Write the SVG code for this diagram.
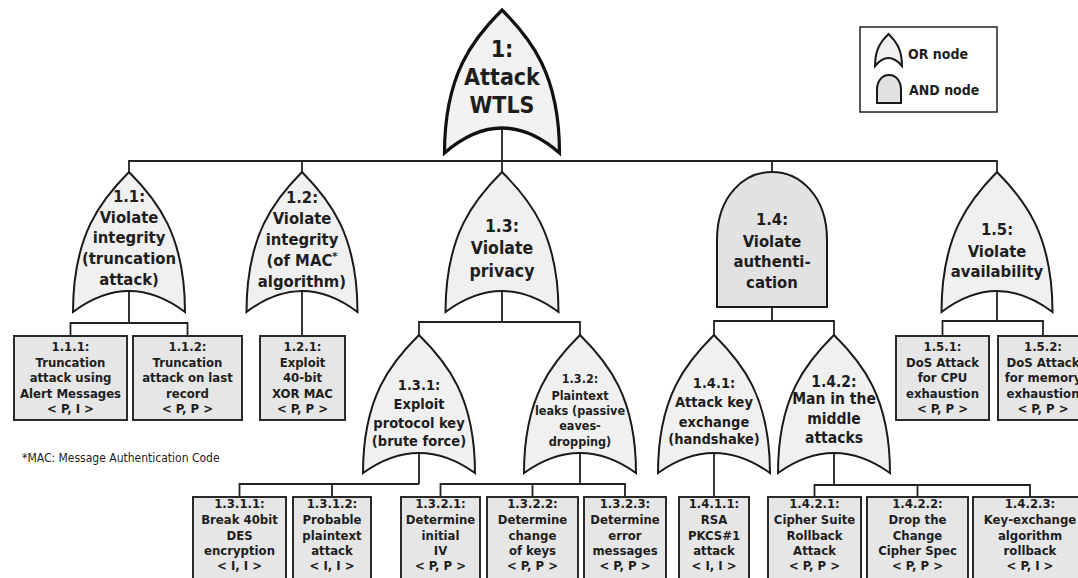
<svg xmlns="http://www.w3.org/2000/svg" width="1078" height="578" viewBox="0 0 1078 578">
  <style>
    text { font-family: "DejaVu Sans Condensed", "DejaVu Sans", sans-serif; font-stretch: condensed; font-weight: bold; fill: #1e1e1e; text-anchor: middle; }
    .or { fill: #f0f0f0; stroke: #1a1a1a; stroke-width: 2; stroke-linejoin: miter; }
    .root { fill: #f2f2f2; stroke: #111; stroke-width: 3.2; }
    .and { fill: #e2e2e2; stroke: #1a1a1a; stroke-width: 2; }
    .leaf { fill: #e6e6e6; stroke: #2a2a2a; stroke-width: 2; }
    .wire { fill: none; stroke: #222; stroke-width: 1.8; }
    .t1 { font-size: 16.5px; }
    .t13 { font-size: 17.5px; }
    .t2 { font-size: 14.5px; }
    .tl { font-size: 13px; }
    .lg { font-size: 14px; text-anchor: start; }
    .note { font-size: 12px; font-weight: normal; text-anchor: start; fill: #222; }
  </style>

  <!-- legend -->
  <g id="legend">
    <rect x="860" y="27" width="137" height="85" fill="#fff" stroke="#222" stroke-width="1.5"/>
    <path class="or" stroke-width="1.6" d="M875,66 C875,48.4 881.8,40.4 888.5,34 C895.2,40.4 902,48.4 902,66 Q888.5,50 875,66 Z"/>
    <text class="lg" x="908" y="59">OR node</text>
    <path class="and" stroke-width="1.6" d="M877,103 L877,90 C877,81 882,75 889,75 C896,75 901,81 901,90 L901,103 Z"/>
    <text class="lg" x="909" y="95">AND node</text>
  </g>

  <!-- connectors -->
  <g id="connectors" class="wire">
    <path d="M502,128 V172"/>
    <path d="M129,172 V161 H997 V172 M302,161 V172 M772,161 V172"/>
    <path d="M129,291 V323 M70.5,336 V323 H187.5 V336"/>
    <path d="M302,291 V336"/>
    <path d="M502,291 V322 M419,335 V322 H580 V335"/>
    <path d="M419,453 V484 M239.5,497 V484 H419 M332,484 V497"/>
    <path d="M580,453 V484 M440.5,497 V484 H625 V497 M532.5,484 V497"/>
    <path d="M772,307 V321 M714,335 V321 H834 V335"/>
    <path d="M714,453 V497"/>
    <path d="M834,453 V485 M814.5,497 V485 H1030 V497 M917.5,485 V497"/>
    <path d="M997,291 V321 M942.5,336 V321 H1043 V336"/>
  </g>

  <!-- root -->
  <g id="n1">
    <path class="root" d="M444.5,153 C444.5,74.4 473.3,38.6 502,10 C530.8,38.6 559.5,74.4 559.5,153 Q502,103 444.5,153 Z"/>
    <text x="502" y="57" font-size="23">1:</text>
    <text x="502" y="85" font-size="23">Attack</text>
    <text x="502" y="113" font-size="23">WTLS</text>
  </g>

  <!-- level 1 -->
  <g id="n1-1">
    <path class="or" d="M73,312 C73,235 101,200 129,172 C157,200 185,235 185,312 Q129,270 73,312 Z"/>
    <text class="t1" x="129" y="202">1.1:</text>
    <text class="t1" x="129" y="223">Violate</text>
    <text class="t1" x="129" y="243">integrity</text>
    <text class="t1" x="129" y="264">(truncation</text>
    <text class="t1" x="129" y="285">attack)</text>
  </g>
  <g id="n1-2">
    <path class="or" d="M246.5,312 C246.5,235 274.3,200 302,172 C329.8,200 357.5,235 357.5,312 Q302,270 246.5,312 Z"/>
    <text class="t1" x="302" y="203">1.2:</text>
    <text class="t1" x="302" y="224">Violate</text>
    <text class="t1" x="302" y="245">integrity</text>
    <text class="t1" x="302" y="266">(of MAC<tspan font-size="11" dy="-6">*</tspan></text>
    <text class="t1" x="302" y="287">algorithm)</text>
  </g>
  <g id="n1-3">
    <path class="or" d="M445.5,312 C445.5,235 473.8,200 502,172 C530.3,200 558.5,235 558.5,312 Q502,270 445.5,312 Z"/>
    <text class="t13" x="502" y="232">1.3:</text>
    <text class="t13" x="502" y="254">Violate</text>
    <text class="t13" x="502" y="277">privacy</text>
  </g>
  <g id="n1-4">
    <path class="and" d="M717,307 L717,240 C717,195 745,172 772,172 C799,172 827,195 827,240 L827,307 Z"/>
    <text class="t1" x="772" y="225">1.4:</text>
    <text class="t1" x="772" y="247">Violate</text>
    <text class="t1" x="772" y="267">authenti-</text>
    <text class="t1" x="772" y="288">cation</text>
  </g>
  <g id="n1-5">
    <path class="or" d="M941.5,312 C941.5,235 969.3,200 997,172 C1024.8,200 1052.5,235 1052.5,312 Q997,270 941.5,312 Z"/>
    <text class="t1" x="997" y="235">1.5:</text>
    <text class="t1" x="997" y="257">Violate</text>
    <text class="t1" x="997" y="277">availability</text>
  </g>

  <!-- level 2 -->
  <g id="n1-1-1">
    <rect class="leaf" x="14" y="336" width="113" height="84"/>
    <text class="tl" x="70.5" y="351">1.1.1:</text>
    <text class="tl" x="70.5" y="366.5">Truncation</text>
    <text class="tl" x="70.5" y="382">attack using</text>
    <text class="tl" x="70.5" y="397.5">Alert Messages</text>
    <text class="tl" x="70.5" y="413">&lt; P, I &gt;</text>
  </g>
  <g id="n1-1-2">
    <rect class="leaf" x="133" y="336" width="109" height="84"/>
    <text class="tl" x="187.5" y="351">1.1.2:</text>
    <text class="tl" x="187.5" y="366.5">Truncation</text>
    <text class="tl" x="187.5" y="382">attack on last</text>
    <text class="tl" x="187.5" y="397.5">record</text>
    <text class="tl" x="187.5" y="413">&lt; P, P &gt;</text>
  </g>
  <g id="n1-2-1">
    <rect class="leaf" x="260" y="336" width="85" height="84"/>
    <text class="tl" x="302.5" y="351">1.2.1:</text>
    <text class="tl" x="302.5" y="366.5">Exploit</text>
    <text class="tl" x="302.5" y="382">40-bit</text>
    <text class="tl" x="302.5" y="397.5">XOR MAC</text>
    <text class="tl" x="302.5" y="413">&lt; P, P &gt;</text>
  </g>
  <g id="n1-3-1">
    <path class="or" d="M363,473 C363,397 391,362.6 419,335 C447,362.6 475,397 475,473 Q419,433 363,473 Z"/>
    <text class="t2" x="419" y="390">1.3.1:</text>
    <text class="t2" x="419" y="409">Exploit</text>
    <text class="t2" x="419" y="428">protocol key</text>
    <text class="t2" x="419" y="446">(brute force)</text>
  </g>
  <g id="n1-3-2">
    <path class="or" d="M524,473 C524,397 552,362.6 580,335 C608,362.6 636,397 636,473 Q580,433 524,473 Z"/>
    <text x="580" y="383" font-size="12.5">1.3.2:</text>
    <text x="580" y="400" font-size="12.5">Plaintext</text>
    <text x="580" y="415" font-size="12.5">leaks (passive</text>
    <text x="580" y="430" font-size="12.5">eaves-</text>
    <text x="580" y="446" font-size="12.5">dropping)</text>
  </g>
  <g id="n1-4-1">
    <path class="or" d="M658,473 C658,397 686,362.6 714,335 C742,362.6 770,397 770,473 Q714,433 658,473 Z"/>
    <text class="t2" x="714" y="388">1.4.1:</text>
    <text class="t2" x="714" y="407">Attack key</text>
    <text class="t2" x="714" y="427">exchange</text>
    <text class="t2" x="714" y="444">(handshake)</text>
  </g>
  <g id="n1-4-2">
    <path class="or" d="M778,473 C778,397 806,362.6 834,335 C862,362.6 890,397 890,473 Q834,433 778,473 Z"/>
    <text x="834" y="387" font-size="15.5">1.4.2:</text>
    <text x="834" y="404" font-size="15.5">Man in the</text>
    <text x="834" y="424" font-size="15.5">middle</text>
    <text x="834" y="443" font-size="15.5">attacks</text>
  </g>
  <g id="n1-5-1">
    <rect class="leaf" x="896" y="336" width="93" height="84"/>
    <text class="tl" x="942.5" y="351">1.5.1:</text>
    <text class="tl" x="942.5" y="366.5">DoS Attack</text>
    <text class="tl" x="942.5" y="382">for CPU</text>
    <text class="tl" x="942.5" y="397.5">exhaustion</text>
    <text class="tl" x="942.5" y="413">&lt; P, P &gt;</text>
  </g>
  <g id="n1-5-2">
    <rect class="leaf" x="998" y="336" width="92" height="84"/>
    <text class="tl" x="1043" y="351">1.5.2:</text>
    <text class="tl" x="1043" y="366.5">DoS Attack</text>
    <text class="tl" x="1043" y="382">for memory</text>
    <text class="tl" x="1043" y="397.5">exhaustion</text>
    <text class="tl" x="1043" y="413">&lt; P, P &gt;</text>
  </g>

  <!-- level 3 -->
  <g id="n1-3-1-1">
    <rect class="leaf" x="193" y="497" width="93" height="95"/>
    <text class="tl" x="239.5" y="508">1.3.1.1:</text>
    <text class="tl" x="239.5" y="524">Break 40bit</text>
    <text class="tl" x="239.5" y="540">DES</text>
    <text class="tl" x="239.5" y="555">encryption</text>
    <text class="tl" x="239.5" y="570">&lt; I, I &gt;</text>
  </g>
  <g id="n1-3-1-2">
    <rect class="leaf" x="293" y="497" width="78" height="95"/>
    <text class="tl" x="332" y="508">1.3.1.2:</text>
    <text class="tl" x="332" y="524">Probable</text>
    <text class="tl" x="332" y="540">plaintext</text>
    <text class="tl" x="332" y="555">attack</text>
    <text class="tl" x="332" y="570">&lt; I, I &gt;</text>
  </g>
  <g id="n1-3-2-1">
    <rect class="leaf" x="401" y="497" width="79" height="95"/>
    <text class="tl" x="440.5" y="508">1.3.2.1:</text>
    <text class="tl" x="440.5" y="524">Determine</text>
    <text class="tl" x="440.5" y="540">initial</text>
    <text class="tl" x="440.5" y="555">IV</text>
    <text class="tl" x="440.5" y="570">&lt; P, P &gt;</text>
  </g>
  <g id="n1-3-2-2">
    <rect class="leaf" x="487" y="497" width="91" height="95"/>
    <text class="tl" x="532.5" y="508">1.3.2.2:</text>
    <text class="tl" x="532.5" y="524">Determine</text>
    <text class="tl" x="532.5" y="540">change</text>
    <text class="tl" x="532.5" y="555">of keys</text>
    <text class="tl" x="532.5" y="570">&lt; P, P &gt;</text>
  </g>
  <g id="n1-3-2-3">
    <rect class="leaf" x="584" y="497" width="82" height="95"/>
    <text class="tl" x="625" y="508">1.3.2.3:</text>
    <text class="tl" x="625" y="524">Determine</text>
    <text class="tl" x="625" y="540">error</text>
    <text class="tl" x="625" y="555">messages</text>
    <text class="tl" x="625" y="570">&lt; P, P &gt;</text>
  </g>
  <g id="n1-4-1-1">
    <rect class="leaf" x="679" y="497" width="70" height="95"/>
    <text class="tl" x="714" y="508">1.4.1.1:</text>
    <text class="tl" x="714" y="524">RSA</text>
    <text class="tl" x="714" y="540">PKCS#1</text>
    <text class="tl" x="714" y="555">attack</text>
    <text class="tl" x="714" y="570">&lt; I, I &gt;</text>
  </g>
  <g id="n1-4-2-1">
    <rect class="leaf" x="768" y="497" width="93" height="95"/>
    <text class="tl" x="814.5" y="508">1.4.2.1:</text>
    <text class="tl" x="814.5" y="524">Cipher Suite</text>
    <text class="tl" x="814.5" y="540">Rollback</text>
    <text class="tl" x="814.5" y="555">Attack</text>
    <text class="tl" x="814.5" y="570">&lt; P, P &gt;</text>
  </g>
  <g id="n1-4-2-2">
    <rect class="leaf" x="867" y="497" width="101" height="95"/>
    <text class="tl" x="917.5" y="508">1.4.2.2:</text>
    <text class="tl" x="917.5" y="524">Drop the</text>
    <text class="tl" x="917.5" y="540">Change</text>
    <text class="tl" x="917.5" y="555">Cipher Spec</text>
    <text class="tl" x="917.5" y="570">&lt; P, P &gt;</text>
  </g>
  <g id="n1-4-2-3">
    <rect class="leaf" x="973" y="497" width="114" height="95"/>
    <text class="tl" x="1030" y="508">1.4.2.3:</text>
    <text class="tl" x="1030" y="524">Key-exchange</text>
    <text class="tl" x="1030" y="540">algorithm</text>
    <text class="tl" x="1030" y="555">rollback</text>
    <text class="tl" x="1030" y="570">&lt; P, I &gt;</text>
  </g>

  <!-- footnote -->
  <text class="note" x="22" y="462">*MAC: Message Authentication Code</text>
</svg>
